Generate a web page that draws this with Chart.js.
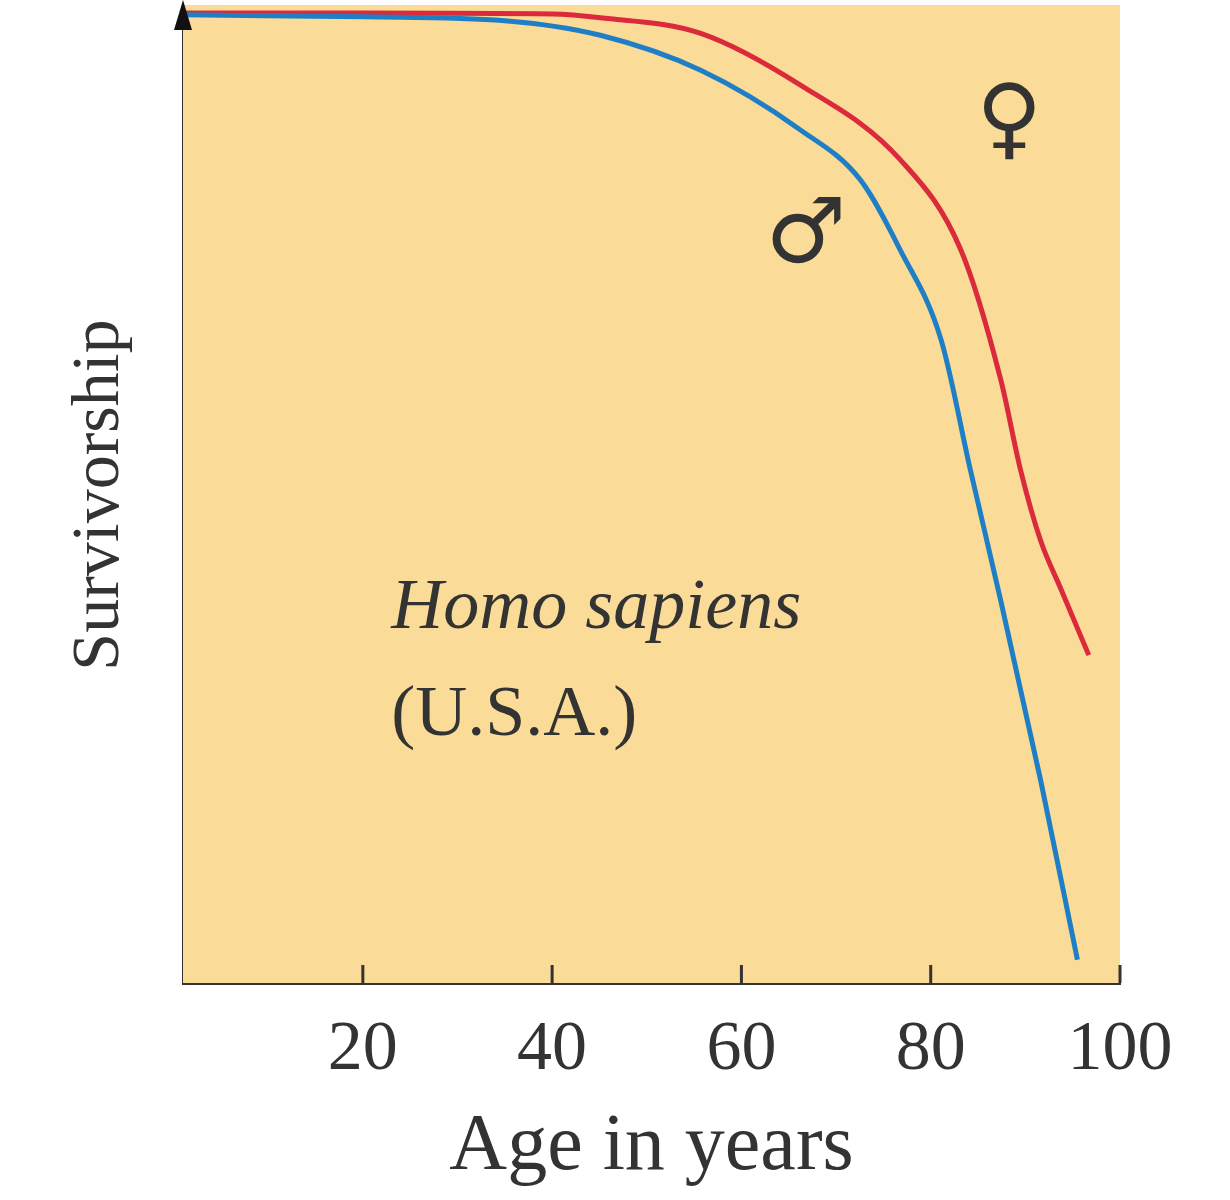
<!DOCTYPE html>
<html><head><meta charset="utf-8">
<script src="https://cdn.jsdelivr.net/npm/chart.js@4"></script>
<style>html,body{margin:0;padding:0;background:#fff}#w{width:1230px;height:1200px}</style>
</head><body><div id="w"><canvas id="c"></canvas></div>
<script>
const maleAges   = [1, 20, 35, 45.1, 55.7, 66.2, 72.6, 76.8, 81.1, 84.2, 87.4, 91.6, 95.5];
const maleSurv   = [99.5, 99.3, 98.9, 97.4, 93.8, 87.7, 82.5, 75.3, 66.1, 52.7, 39.3, 20.9, 2.4];
const femaleAges = [1, 20, 40, 45.1, 55.7, 66.2, 76.8, 83.2, 87.4, 89.5, 91.6, 93.8, 96.7];
const femaleSurv = [99.7, 99.7, 99.6, 99.2, 97.6, 92.3, 84.6, 75.3, 62, 52.7, 45.5, 40.4, 33.7];
const xTicks = [20, 40, 60, 80, 100];
const serif = '"Liberation Serif", "DejaVu Serif", serif';
const ink = '#333';

const deco = {
  id: 'deco',
  beforeDatasetsDraw(ch) {
    const {ctx, chartArea: a} = ch;
    ctx.save(); ctx.fillStyle = '#fadc98';
    ctx.fillRect(a.left, a.top - 5, a.right - a.left, a.bottom - a.top + 5);
    ctx.restore();
  },
  afterDraw(ch) {
    const {ctx, chartArea: a, scales: {x, y}} = ch;
    ctx.save();
    ctx.strokeStyle = ink; ctx.lineWidth = 3;
    xTicks.forEach(t => { const px = x.getPixelForValue(t); ctx.beginPath(); ctx.moveTo(px, a.bottom); ctx.lineTo(px, a.bottom - 18); ctx.stroke(); });
    ctx.fillStyle = '#111'; ctx.beginPath();
    ctx.moveTo(a.left, a.top - 10); ctx.lineTo(a.left - 9, a.top + 20); ctx.lineTo(a.left + 9, a.top + 20); ctx.closePath(); ctx.fill();
    ctx.fillStyle = ink; ctx.font = '68px ' + serif; ctx.textAlign = 'center'; ctx.textBaseline = 'middle';
    ctx.translate(100, 495); ctx.rotate(-Math.PI / 2); ctx.fillText('Survivorship', 0, 0);
    ctx.restore();
    ctx.save(); ctx.fillStyle = ink; ctx.textBaseline = 'alphabetic';
    ctx.font = 'italic 72px ' + serif; ctx.fillText('Homo sapiens', x.getPixelForValue(23), y.getPixelForValue(36.5));
    ctx.font = '72px ' + serif; ctx.fillText('(U.S.A.)', x.getPixelForValue(23), y.getPixelForValue(25.5));
    ctx.font = '90px "DejaVu Sans", sans-serif'; ctx.textAlign = 'center'; ctx.textBaseline = 'middle';
    ctx.fillText('♀', x.getPixelForValue(88.3), y.getPixelForValue(88.2));
    ctx.fillText('♂', x.getPixelForValue(66.8), y.getPixelForValue(76.5));
    ctx.restore();
  }
};

new Chart(document.getElementById('c'), {
  type: 'line',
  data: { datasets: [
    { data: maleAges.map((a, i) => ({x: a, y: maleSurv[i]})), borderColor: '#1f7fc6', borderWidth: 5, pointRadius: 0, cubicInterpolationMode: 'monotone' },
    { data: femaleAges.map((a, i) => ({x: a, y: femaleSurv[i]})), borderColor: '#da2a3c', borderWidth: 5, pointRadius: 0, cubicInterpolationMode: 'monotone' }
  ]},
  options: {
    responsive: true, maintainAspectRatio: false, animation: false,
    layout: { padding: { top: 10, right: 110, left: 0, bottom: 0 } },
    plugins: { legend: { display: false }, tooltip: { enabled: false } },
    scales: {
      x: { type: 'linear', min: 1, max: 100,
        afterBuildTicks: s => { s.ticks = xTicks.map(v => ({value: v})); },
        afterFit: s => { s.height = 217; },
        grid: { display: false }, border: { color: ink, width: 3 },
        ticks: { color: ink, font: { family: serif, size: 70 }, padding: 18 },
        title: { display: true, text: 'Age in years', color: ink, font: { family: serif, size: 80 }, padding: { top: 0 } } },
      y: { min: 0, max: 100, afterFit: s => { s.width = 183; },
        grid: { display: false }, border: { color: ink, width: 3 }, ticks: { display: false } }
    }
  },
  plugins: [deco]
});
</script></body></html>
